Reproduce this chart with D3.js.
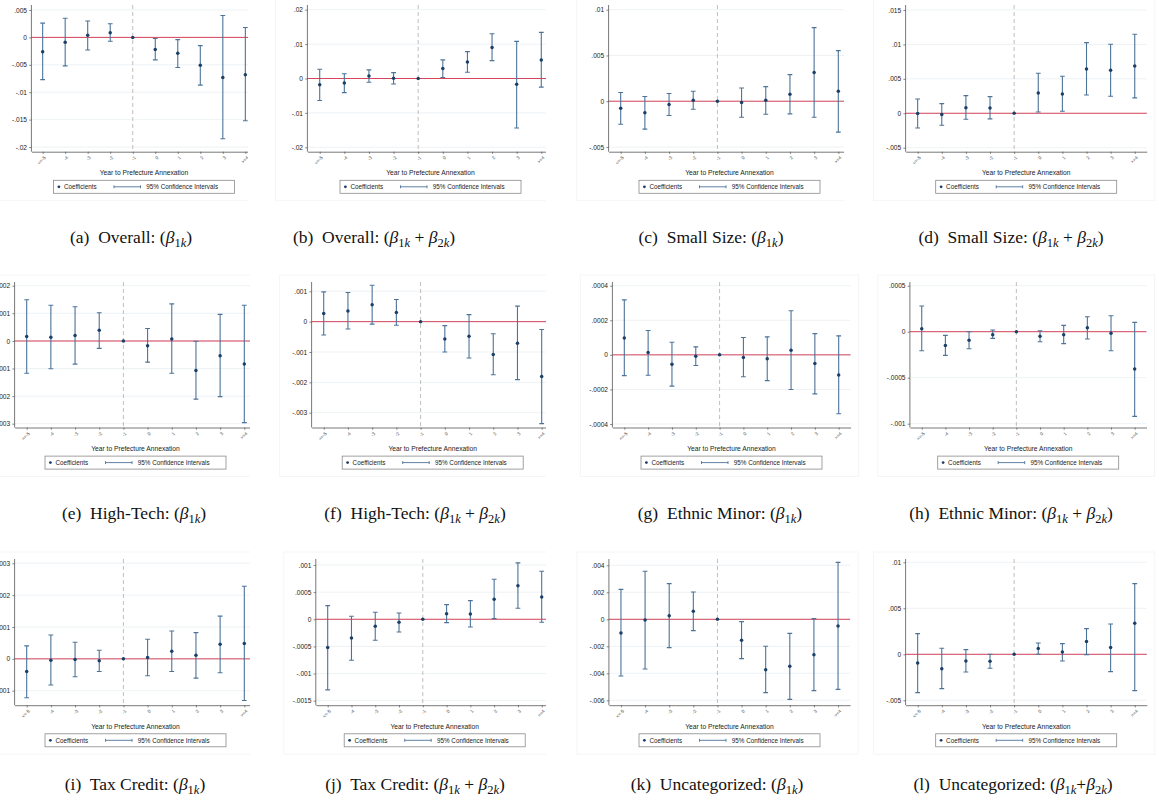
<!DOCTYPE html>
<html>
<head>
<meta charset="utf-8">
<script src="https://cdn.jsdelivr.net/npm/d3@7"></script>
<style>
  body { margin: 0; background: #fff; }
  svg { display: block; }
</style>
</head>
<body>
<svg id="chart" width="1159" height="804"></svg>
<script>
// Event-time periods relative to prefecture annexation (reference year = -1)
const periods = ["<=-5", "-4", "-3", "-2", "-1", "0", "1", "2", "3", ">=4"];

// (a) Overall: beta_1k
const overallB1    = [-0.0026, -0.0009, 0.0004, 0.00085, 0, -0.0022, -0.0029, -0.0051, -0.0073, -0.0068];
const overallB1Lo  = [-0.0077, -0.0052, -0.0023, -0.0007, null, -0.0041, -0.0055, -0.0087, -0.0185, -0.0152];
const overallB1Hi  = [0.0026, 0.0035, 0.0030, 0.0025, null, -0.0002, -0.0004, -0.0015, 0.0040, 0.0018];
const overallTicks1 = [-0.02, -0.015, -0.01, -0.005, 0, 0.005];

// (b) Overall: beta_1k + beta_2k
const overallB12   = [-0.0018, -0.0013, 0.0007, 0.0001, 0, 0.0029, 0.0048, 0.0090, -0.0017, 0.0054];
const overallB12Lo = [-0.0064, -0.0041, -0.0011, -0.0016, null, 0.0003, 0.0018, 0.0052, -0.0144, -0.0025];
const overallB12Hi = [0.0027, 0.0014, 0.0025, 0.0017, null, 0.0054, 0.0078, 0.0130, 0.0108, 0.0134];
const overallTicks12 = [-0.02, -0.01, 0, 0.01, 0.02];

// (c) Small Size: beta_1k
const smallB1    = [-0.00076, -0.00127, -0.00036, 0.00011, 0, -0.00015, 0.00011, 0.00076, 0.00313, 0.00109];
const smallB1Lo  = [-0.00251, -0.00305, -0.00156, -0.00087, null, -0.00175, -0.00142, -0.00138, -0.00175, -0.00338];
const smallB1Hi  = [0.00095, 0.00051, 0.00084, 0.00109, null, 0.00145, 0.00160, 0.00291, 0.00804, 0.00553];
const smallTicks1 = [-0.005, 0, 0.005, 0.01];

// (d) Small Size: beta_1k + beta_2k
const smallB12   = [-0.00005, -0.00019, 0.00082, 0.00077, 0, 0.00295, 0.00281, 0.00644, 0.00624, 0.00687];
const smallB12Lo = [-0.00213, -0.00174, -0.00087, -0.00082, null, 0.00019, 0.00029, 0.00266, 0.00247, 0.00223];
const smallB12Hi = [0.00208, 0.00140, 0.00257, 0.00242, null, 0.00581, 0.00537, 0.01026, 0.01002, 0.01147];
const smallTicks12 = [-0.005, 0, 0.005, 0.01, 0.015];

// (e) High-Tech: beta_1k
const techB1    = [0.00016, 0.00013, 0.00020, 0.00039, 0, -0.00018, 0.00007, -0.00107, -0.00054, -0.00084];
const techB1Lo  = [-0.00117, -0.00101, -0.00084, -0.00027, null, -0.00077, -0.00117, -0.00211, -0.00202, -0.00296];
const techB1Hi  = [0.00149, 0.00129, 0.00124, 0.00102, null, 0.00045, 0.00134, -0.00001, 0.00096, 0.00129];
const techTicks1 = [-0.003, -0.002, -0.001, 0, 0.001, 0.002];

// (f) High-Tech: beta_1k + beta_2k
const techB12   = [0.00027, 0.00035, 0.00056, 0.00030, 0, -0.00057, -0.00048, -0.00108, -0.00071, -0.00181];
const techB12Lo = [-0.00044, -0.00024, -0.00008, -0.00012, null, -0.00100, -0.00120, -0.00175, -0.00191, -0.00336];
const techB12Hi = [0.00098, 0.00096, 0.00120, 0.00073, null, -0.00013, 0.00023, -0.00040, 0.00051, -0.00026];
const techTicks12 = [-0.003, -0.002, -0.001, 0, 0.001];

// (g) Ethnic Minor: beta_1k
const ethnicB1    = [0.000098, 0.0000135, -0.000054, -0.0000077, 0, -0.0000154, -0.0000231, 0.000027, -0.00005, -0.000116];
const ethnicB1Lo  = [-0.00012, -0.000118, -0.000181, -0.0000617, null, -0.000127, -0.000149, -0.0002, -0.000226, -0.000341];
const ethnicB1Hi  = [0.000318, 0.000141, 0.0000733, 0.0000463, null, 0.0001, 0.000104, 0.000255, 0.000123, 0.00011];
const ethnicTicks1 = [-0.0004, -0.0002, 0, 0.0002, 0.0004];

// (h) Ethnic Minor: beta_1k + beta_2k
const ethnicB12   = [0.0000326, -0.000149, -0.0000942, -0.0000326, 0, -0.0000507, -0.0000326, 0.0000435, -0.0000181, -0.000406];
const ethnicB12Lo = [-0.000207, -0.000257, -0.000185, -0.0000725, null, -0.000109, -0.00013, -0.0000797, -0.000207, -0.00092];
const ethnicB12Hi = [0.000279, -0.00004, 0, 0.0000181, null, 0.0000109, 0.0000688, 0.000163, 0.000174, 0.000101];
const ethnicTicks12 = [-0.001, -0.0005, 0, 0.0005];

// (i) Tax Credit: beta_1k
const taxB1    = [-0.000396, -0.0000417, -0.0000208, -0.0000625, 0, 0.0000417, 0.00024, 0.000115, 0.000458, 0.000479];
const taxB1Lo  = [-0.00122, -0.000823, -0.000563, -0.000396, null, -0.000531, -0.000396, -0.000604, -0.000438, -0.00131];
const taxB1Hi  = [0.000406, 0.00075, 0.000521, 0.000271, null, 0.000615, 0.000875, 0.000823, 0.00134, 0.00228];
const taxTicks1 = [-0.001, 0, 0.001, 0.002, 0.003];

// (j) Tax Credit: beta_1k + beta_2k
const taxB12   = [-0.000522, -0.000344, -0.000129, -0.0000553, 0, 0.000104, 0.0000983, 0.000369, 0.00062, 0.000412];
const taxB12Lo = [-0.0013, -0.000756, -0.000387, -0.000233, null, -0.0000614, -0.000141, 0.0000123, 0.000203, -0.0000553];
const taxB12Hi = [0.000252, 0.0000553, 0.000129, 0.000117, null, 0.00027, 0.000344, 0.000737, 0.00104, 0.000885];
const taxTicks12 = [-0.0015, -0.001, -0.0005, 0, 0.0005, 0.001];

// (k) Uncategorized: beta_1k
const uncatB1    = [-0.00101, -0.00005, 0.00027, 0.00059, 0, -0.00156, -0.00373, -0.00348, -0.00262, -0.00049];
const uncatB1Lo  = [-0.0042, -0.00368, -0.0021, -0.00084, null, -0.00291, -0.00543, -0.00593, -0.00528, -0.00519];
const uncatB1Hi  = [0.00222, 0.00356, 0.00264, 0.00202, null, -0.00017, -0.002, -0.00104, 0.00005, 0.00422];
const uncatTicks1 = [-0.006, -0.004, -0.002, 0, 0.002, 0.004];

// (l) Uncategorized: beta_1k + beta_2k
const uncatB12   = [-0.00094, -0.00156, -0.00073, -0.00076, 0, 0.00062, 0.00025, 0.00138, 0.00073, 0.00337];
const uncatB12Lo = [-0.00417, -0.00373, -0.00192, -0.00152, null, 0, -0.00073, -0.00004, -0.00188, -0.00395];
const uncatB12Hi = [0.00225, 0.00065, 0.00051, 0, null, 0.00123, 0.00116, 0.00279, 0.0033, 0.00768];
const uncatTicks12 = [-0.005, 0, 0.005, 0.01];

const letters  = ["a", "b", "c", "d", "e", "f", "g", "h", "i", "j", "k", "l"];
const groups   = ["Overall", "Overall", "Small Size", "Small Size", "High-Tech", "High-Tech",
                  "Ethnic Minor", "Ethnic Minor", "Tax Credit", "Tax Credit", "Uncategorized", "Uncategorized"];
const xTitle = "Year to Prefecture Annexation";
const legendCoef = "Coefficients";
const legendCI = "95% Confidence Intervals";

const panels = [
  [overallB1, overallB1Lo, overallB1Hi, overallTicks1],
  [overallB12, overallB12Lo, overallB12Hi, overallTicks12],
  [smallB1, smallB1Lo, smallB1Hi, smallTicks1],
  [smallB12, smallB12Lo, smallB12Hi, smallTicks12],
  [techB1, techB1Lo, techB1Hi, techTicks1],
  [techB12, techB12Lo, techB12Hi, techTicks12],
  [ethnicB1, ethnicB1Lo, ethnicB1Hi, ethnicTicks1],
  [ethnicB12, ethnicB12Lo, ethnicB12Hi, ethnicTicks12],
  [taxB1, taxB1Lo, taxB1Hi, taxTicks1],
  [taxB12, taxB12Lo, taxB12Hi, taxTicks12],
  [uncatB1, uncatB1Lo, uncatB1Hi, uncatTicks1],
  [uncatB12, uncatB12Lo, uncatB12Hi, uncatTicks12]
].map(([coef, lo, hi, ticks], i) => ({
  letter: letters[i], group: groups[i], sum: i % 2 === 1, ticks,
  rows: periods.map((p, j) => ({ p, coef: coef[j], lo: lo[j], hi: hi[j] }))
}));

// ---- layout ----
const rowGeom = [
  { top: 5,   bottom: 151.7, capY: 243 },
  { top: 282, bottom: 427.5, capY: 519 },
  { top: 559, bottom: 705.2, capY: 790 }
];
// L/R: plot-region edges; yt/yb: pixel of top/bottom tick; cx0/cx1: visible crop of each graph
const geom = [
  { row: 0, L: 31.4,  R: 256.6,  yt: 10,    yb: 147,   cx0: 0,   cx1: 248,  capX: 131 },
  { row: 0, L: 307.4, R: 553.6,  yt: 9.7,   yb: 147.3, cx0: 268, cx1: 546,  capX: 374 },
  { row: 0, L: 608.6, R: 850.4,  yt: 9.7,   yb: 147,   cx0: 572, cx1: 844,  capX: 711 },
  { row: 0, L: 905.6, R: 1146.8, yt: 10,    yb: 147.7, cx0: 866, cx1: 1159, capX: 1011 },
  { row: 1, L: 14.6,  R: 256.4,  yt: 285.7, yb: 423.7, cx0: 0,   cx1: 250,  capX: 134 },
  { row: 1, L: 311.6, R: 553.8,  yt: 291.3, yb: 412.7, cx0: 276, cx1: 546,  capX: 415 },
  { row: 1, L: 612.4, R: 850.6,  yt: 285.7, yb: 424,   cx0: 572, cx1: 860,  capX: 720 },
  { row: 1, L: 909.9, R: 1146.5, yt: 285.7, yb: 423.7, cx0: 866, cx1: 1159, capX: 1011 },
  { row: 2, L: 14.6,  R: 256.4,  yt: 563.3, yb: 690.7, cx0: 0,   cx1: 250,  capX: 135 },
  { row: 2, L: 315.8, R: 553.6,  yt: 565,   yb: 700.7, cx0: 276, cx1: 546,  capX: 415 },
  { row: 2, L: 608.9, R: 850.1,  yt: 565.3, yb: 700.3, cx0: 572, cx1: 860,  capX: 717 },
  { row: 2, L: 905.6, R: 1146.8, yt: 562.3, yb: 700.3, cx0: 866, cx1: 1159, capX: 1013 }
];

const C = {
  axis: "#555",
  grid: "#e9eff2",
  zero: "#d6455b",
  zeroSoft: "#e79aa8",
  vref: "#b8b8b8",
  ci: "#4d7398",
  dot: "#1b3f66",
  text: "#222",
  legendBorder: "#8a8a8a",
  frame: "#f5f5f5"
};
const sans = "'Liberation Sans', Arial, Helvetica, sans-serif";
const serif = "'Liberation Serif', 'Times New Roman', serif";

const fmtTick = v => v === 0 ? "0" : String(v).replace("0.", ".");

const svg = d3.select("#chart");
const defs = svg.append("defs");

panels.forEach((panel, i) => {
  const g0 = geom[i];
  const rg = rowGeom[g0.row];

  defs.append("clipPath").attr("id", "crop" + i)
    .append("rect")
    .attr("x", g0.cx0).attr("y", rg.top - 10)
    .attr("width", g0.cx1 - g0.cx0).attr("height", rg.bottom - rg.top + 60);

  const g = svg.append("g").attr("clip-path", `url(#crop${i})`);

  // faint outline of the graph region
  g.append("rect")
    .attr("x", g0.L - 32).attr("y", rg.top - 7)
    .attr("width", g0.R - g0.L + 40).attr("height", rg.bottom - rg.top + 56)
    .attr("fill", "none").attr("stroke", C.frame).attr("stroke-width", 1);

  const x = d3.scalePoint().domain(periods).range([g0.L, g0.R]).padding(0.5);
  const ticks = panel.ticks;
  const y = d3.scaleLinear()
    .domain([ticks[0], ticks[ticks.length - 1]])
    .range([g0.yb, g0.yt]);

  // horizontal gridlines
  g.append("g").selectAll("line").data(ticks).join("line")
    .attr("x1", g0.L).attr("x2", g0.R)
    .attr("y1", d => y(d)).attr("y2", d => y(d))
    .attr("stroke", C.grid).attr("stroke-width", 0.8);

  // zero reference line (drawn softer and wider in the High-Tech beta_1k graph)
  const soft = i === 4;
  g.append("line")
    .attr("x1", g0.L).attr("x2", g0.R)
    .attr("y1", y(0)).attr("y2", y(0))
    .attr("stroke", soft ? C.zeroSoft : C.zero).attr("stroke-width", soft ? 2 : 1);

  // dashed line at the reference period
  g.append("line")
    .attr("x1", x("-1")).attr("x2", x("-1"))
    .attr("y1", rg.top).attr("y2", rg.bottom)
    .attr("stroke", C.vref).attr("stroke-width", 0.9)
    .attr("stroke-dasharray", "4,3");

  // y axis
  const yAxis = g.append("g").attr("transform", `translate(${g0.L},0)`)
    .call(d3.axisLeft(y).tickValues(ticks).tickFormat(fmtTick).tickSize(2.2).tickPadding(2.2));
  yAxis.select(".domain").remove();
  yAxis.selectAll(".tick line").attr("stroke", C.axis).attr("stroke-width", 0.7);
  yAxis.selectAll(".tick text")
    .attr("font-family", sans).attr("font-size", 6.6).attr("fill", C.text);
  yAxis.attr("font-family", null).attr("font-size", null);
  g.append("line")
    .attr("x1", g0.L).attr("x2", g0.L)
    .attr("y1", rg.top).attr("y2", rg.bottom)
    .attr("stroke", C.axis).attr("stroke-width", 0.8);

  // x axis
  const xAxis = g.append("g").attr("transform", `translate(0,${rg.bottom})`)
    .call(d3.axisBottom(x).tickSize(2.2).tickSizeOuter(0));
  xAxis.select(".domain").attr("stroke", C.axis).attr("stroke-width", 0.8);
  xAxis.selectAll(".tick line").attr("stroke", C.axis).attr("stroke-width", 0.7);
  xAxis.selectAll(".tick text")
    .attr("font-family", sans).attr("font-size", 4.6).attr("fill", "#444")
    .attr("x", 0).attr("y", 0).attr("dy", "0.35em")
    .attr("text-anchor", "end")
    .attr("transform", "translate(1.8,5.2) rotate(-45)");
  xAxis.attr("font-family", null).attr("font-size", null);

  // confidence intervals (capped)
  const ciRows = panel.rows.filter(d => d.lo !== null && d.hi !== null);
  const capW = 2.4;
  const ci = g.append("g").attr("stroke", C.ci).attr("stroke-width", 1.1).attr("fill", "none");
  ci.selectAll("line.v").data(ciRows).join("line").attr("class", "v")
    .attr("x1", d => x(d.p)).attr("x2", d => x(d.p))
    .attr("y1", d => y(d.hi)).attr("y2", d => y(d.lo));
  ci.selectAll("line.t").data(ciRows).join("line").attr("class", "t")
    .attr("x1", d => x(d.p) - capW).attr("x2", d => x(d.p) + capW)
    .attr("y1", d => y(d.hi)).attr("y2", d => y(d.hi));
  ci.selectAll("line.b").data(ciRows).join("line").attr("class", "b")
    .attr("x1", d => x(d.p) - capW).attr("x2", d => x(d.p) + capW)
    .attr("y1", d => y(d.lo)).attr("y2", d => y(d.lo));

  // point estimates
  g.append("g").selectAll("circle").data(panel.rows).join("circle")
    .attr("cx", d => x(d.p)).attr("cy", d => y(d.coef))
    .attr("r", 1.75).attr("fill", C.dot);

  // x-axis title
  const midX = (g0.L + g0.R) / 2;
  g.append("text")
    .attr("x", midX).attr("y", rg.bottom + 23.4)
    .attr("text-anchor", "middle")
    .attr("font-family", sans).attr("font-size", 6.7).attr("fill", C.text)
    .text(xTitle);

  // legend
  const lw = 181, lh = 13;
  const lx = midX - lw / 2, ly = rg.bottom + 28.6;
  const lg = g.append("g").attr("transform", `translate(${lx},${ly})`);
  lg.append("rect").attr("width", lw).attr("height", lh)
    .attr("fill", "#fff").attr("stroke", C.legendBorder).attr("stroke-width", 0.8);
  lg.append("circle").attr("cx", 5.4).attr("cy", lh / 2).attr("r", 1.4).attr("fill", C.dot);
  lg.append("text").attr("x", 10.4).attr("y", lh / 2).attr("dy", "0.35em")
    .attr("font-family", sans).attr("font-size", 6.3).attr("fill", C.text).text(legendCoef);
  lg.append("line").attr("x1", 60.5).attr("x2", 87).attr("y1", lh / 2).attr("y2", lh / 2)
    .attr("stroke", C.ci).attr("stroke-width", 0.9);
  [60.5, 87].forEach(cx => lg.append("line").attr("x1", cx).attr("x2", cx)
    .attr("y1", lh / 2 - 1.5).attr("y2", lh / 2 + 1.5)
    .attr("stroke", C.ci).attr("stroke-width", 0.9));
  lg.append("text").attr("x", 92.8).attr("y", lh / 2).attr("dy", "0.35em")
    .attr("font-family", sans).attr("font-size", 6.3).attr("fill", C.text).text(legendCI);

  // sub-figure caption
  const segs = [{ t: `(${panel.letter})` }, { t: `  ${panel.group}: (` }];
  const beta = n => [{ t: "β", it: true }, { t: n, sub: true }, { t: "k", sub: true, it: true }];
  segs.push(...beta("1"));
  if (panel.sum) {
    segs.push({ t: i === 11 ? "+" : " + " });
    segs.push(...beta("2"));
  }
  segs.push({ t: ")" });
  const cap = svg.append("text")
    .attr("x", g0.capX).attr("y", rg.capY)
    .attr("text-anchor", "middle")
    .attr("font-family", serif).attr("font-size", 17.5).attr("fill", "#111")
    .style("white-space", "pre");
  let cur = 0;
  segs.forEach(s => {
    const off = s.sub ? 3.8 : 0;
    const ts = cap.append("tspan").attr("dy", off - cur).text(s.t);
    if (s.sub) ts.attr("font-size", 12.5);
    if (s.it) ts.attr("font-style", "italic");
    cur = off;
  });
});
</script>
</body>
</html>
